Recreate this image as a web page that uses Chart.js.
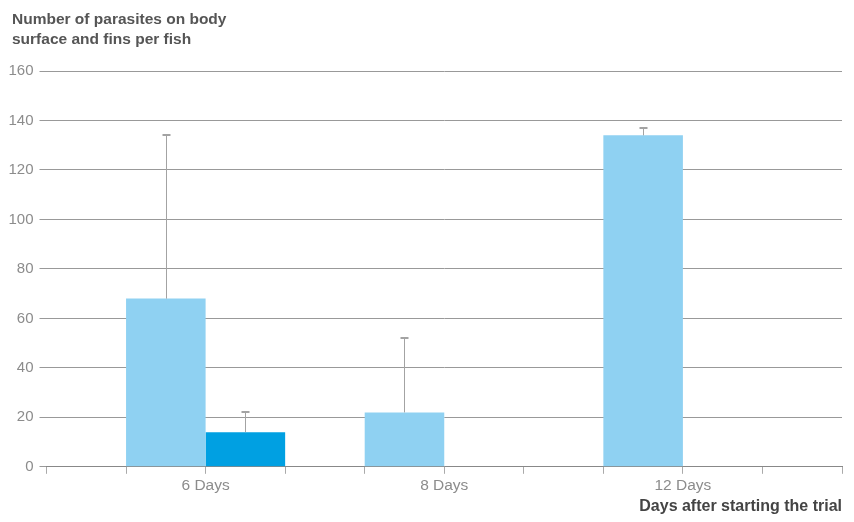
<!DOCTYPE html>
<html>
<head>
<meta charset="utf-8">
<script src="https://cdn.jsdelivr.net/npm/chart.js@4"></script>
<style>
  html, body { margin: 0; padding: 0; background: #fff; }
  #wrap { width: 854px; height: 522px; }
</style>
</head>
<body>
<div id="wrap"><canvas id="chart" width="854" height="522"></canvas></div>
<script>
const categories = ['6 Days', '8 Days', '12 Days'];
const seriesA = [68, 22, 134];
const errorsA = [66, 30, 3];
const seriesB = [14, 0, 0];
const errorsB = [8, 0, 0];
const yTicks = { min: 0, max: 160, step: 20 };

// the x axis has 10 even intervals, each day sits on every third tick
const slots = 11;
const slotOf = i => 2 + i * 3;
const labels = Array(slots).fill('');
categories.forEach((c, i) => { labels[slotOf(i)] = c; });
const spread = arr => {
    const out = Array(slots).fill(null);
    arr.forEach((v, i) => { out[slotOf(i)] = v; });
    return out;
};

const FONT = "'Liberation Sans', Arial, sans-serif";

const errorBars = {
    id: 'errorBars',
    afterLayout(chart) {
        // y labels stick out left of the axis box, don't let them get clipped
        chart.scales.y.left = 0;
    },
    afterDatasetsDraw(chart) {
        const ctx = chart.ctx;
        const y = chart.scales.y;
        chart.data.datasets.forEach((ds, di) => {
            const meta = chart.getDatasetMeta(di);
            ds.errors.forEach((e, i) => {
                const v = ds.data[i];
                if (v === null || !e) return;
                const bar = meta.data[i];
                const x = Math.round(bar.x) + 0.5;
                const top = Math.round(y.getPixelForValue(v + e));
                ctx.save();
                ctx.strokeStyle = '#a3a3a3';
                ctx.lineWidth = 1;
                ctx.beginPath();
                ctx.moveTo(x, bar.y);
                ctx.lineTo(x, top);
                ctx.stroke();
                ctx.lineWidth = 2;
                ctx.beginPath();
                ctx.moveTo(x - 4, top);
                ctx.lineTo(x + 4, top);
                ctx.stroke();
                ctx.restore();
            });
        });
    }
};

new Chart(document.getElementById('chart'), {
    type: 'bar',
    data: {
        labels: labels,
        datasets: [{
            data: spread(seriesA),
            errors: spread(errorsA),
            backgroundColor: '#8fd1f2'
        }, {
            data: spread(seriesB),
            errors: spread(errorsB),
            backgroundColor: '#00a0e2'
        }]
    },
    options: {
        responsive: false,
        animation: false,
        categoryPercentage: 2,
        barPercentage: 1,
        layout: { padding: { left: 12, right: 12, top: 2, bottom: 1.5 } },
        plugins: {
            legend: { display: false },
            tooltip: { enabled: false },
            title: {
                display: true,
                text: ['Number of parasites on body', 'surface and fins per fish'],
                align: 'start',
                color: '#555',
                font: { family: FONT, size: 15.5, weight: 'bold', lineHeight: 1.26 },
                padding: { top: 8, bottom: 22 }
            }
        },
        scales: {
            x: {
                offset: false,
                grid: { offset: false, drawOnChartArea: false, color: '#aaa', tickLength: 7 },
                border: { color: '#888' },
                ticks: {
                    autoSkip: false,
                    maxRotation: 0,
                    color: '#8c8c8c',
                    padding: 5,
                    font: { family: FONT, size: 15.5, lineHeight: 0.87 }
                },
                title: {
                    display: true,
                    text: 'Days after starting the trial',
                    align: 'end',
                    color: '#444',
                    font: { family: FONT, size: 16, weight: 'bold' },
                    padding: { top: 0, bottom: 4 }
                }
            },
            y: {
                min: yTicks.min,
                max: yTicks.max,
                afterFit(scale) { scale.width = 34.5; },
                grid: { color: '#999', tickLength: 7 },
                border: { display: false },
                ticks: {
                    stepSize: yTicks.step,
                    color: '#8c8c8c',
                    padding: 6,
                    font: { family: FONT, size: 15 }
                }
            }
        }
    },
    plugins: [errorBars]
});
</script>
</body>
</html>
